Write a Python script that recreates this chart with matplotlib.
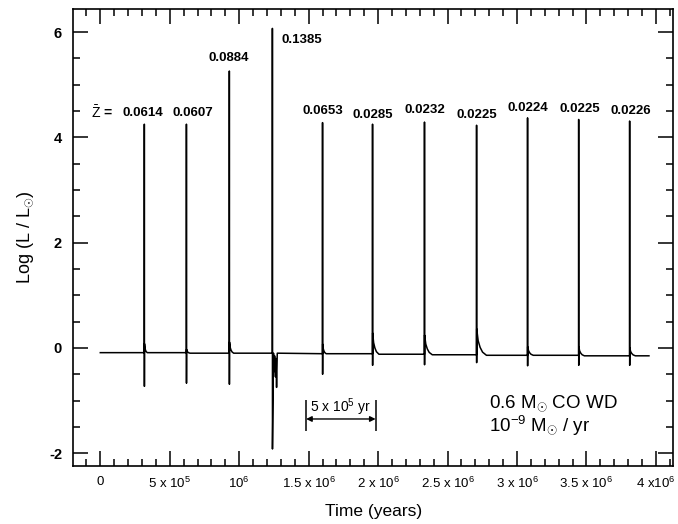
import numpy as np
import matplotlib
matplotlib.use("Agg")
from matplotlib import pyplot as plt
from matplotlib.ticker import MultipleLocator, FixedLocator, FixedFormatter

plt.rcParams['font.family'] = ['Liberation Sans', 'DejaVu Sans']
plt.rcParams['mathtext.fontset'] = 'custom'
plt.rcParams['mathtext.rm'] = 'Liberation Sans'
plt.rcParams['mathtext.it'] = 'Liberation Sans:italic'
plt.rcParams['mathtext.bf'] = 'Liberation Sans:bold'
plt.rcParams['axes.unicode_minus'] = False

# flash times (yr) and the light curve values
flash_t = [3.17e5, 6.2e5, 9.29e5, 1.239e6, 1.60e6, 1.96e6, 2.334e6, 2.709e6, 3.076e6, 3.444e6, 3.811e6]
flash_peak = [4.25, 4.25, 5.26, 6.07, 4.28, 4.25, 4.29, 4.23, 4.37, 4.34, 4.31]
flash_dip = [-0.73, -0.67, -0.69, -1.92, -0.5, -0.33, -0.32, -0.28, -0.34, -0.33, -0.33]
tail_top = [0.08, -0.03, 0.11, -0.10, 0.07, 0.28, 0.24, 0.36, 0.02, 0.02, 0.0]
tail_len = [2e4, 2.5e4, 3e4, 0, 2.5e4, 4.5e4, 5.5e4, 7e4, 4e4, 4e4, 4e4]
# quiescent level before each flash, plus the end
base_level = [-0.09, -0.09, -0.10, -0.10, -0.11, -0.11, -0.12, -0.13, -0.14, -0.14, -0.15, -0.15]
t_start = 0.0
t_end = 3.95e6
# decay shape of the tail after a flash (fraction of length, fraction of height)
tail_dt = [0.0, 0.15, 0.35, 0.6, 1.0]
tail_frac = [1.0, 0.55, 0.3, 0.12, 0.0]
# the wiggles after the strongest flash
osc_dt = [0.8e4, 1.2e4, 1.6e4, 2.2e4, 2.6e4, 3.0e4, 3.5e4]
osc_val = [-0.10, -0.45, -0.15, -0.55, -0.20, -0.75, -0.10]

z_labels = ['0.0614', '0.0607', '0.0884', '0.1385', '0.0653', '0.0285',
            '0.0232', '0.0225', '0.0224', '0.0225', '0.0226']
label_t = [3.03e5, 6.63e5, 9.22e5, 1.304e6, 1.60e6, 1.96e6, 2.334e6, 2.709e6, 3.076e6, 3.451e6, 3.818e6]
label_y = [4.47, 4.47, 5.50, 5.85, 4.50, 4.43, 4.52, 4.43, 4.56, 4.54, 4.50]

xtick_vals = [0, 5e5, 1e6, 1.5e6, 2e6, 2.5e6, 3e6, 3.5e6, 4e6]
xtick_text = ['0', '5 x 10$^5$', '10$^6$', '1.5 x 10$^6$', '2 x 10$^6$', '2.5 x 10$^6$',
              '3 x 10$^6$', '3.5 x 10$^6$', '4 x10$^6$']

# build the light curve polyline
t = [t_start]
L = [base_level[0]]
for i in range(len(flash_t)):
    ti = flash_t[i]
    t += [ti - 500, ti, ti + 500]
    L += [base_level[i], flash_peak[i], flash_dip[i]]
    if i == 3:
        for dt, v in zip(osc_dt, osc_val):
            t.append(ti + dt)
            L.append(v)
    else:
        for dt, f in zip(tail_dt, tail_frac):
            t.append(ti + 1000 + dt * tail_len[i])
            L.append(base_level[i + 1] + f * (tail_top[i] - base_level[i + 1]))
t.append(t_end)
L.append(base_level[-1])

fig = plt.figure(figsize=(6.78, 5.24), dpi=100)
ax = fig.add_axes([0.108, 0.110, 0.885, 0.873])
ax.plot(t, L, color='black', lw=1.1)

ax.set_xlim(-1.95e5, 4.125e6)
ax.set_ylim(-2.25, 6.44)

ax.xaxis.set_major_locator(FixedLocator(xtick_vals))
ax.xaxis.set_major_formatter(FixedFormatter(xtick_text))
ax.xaxis.set_minor_locator(MultipleLocator(1e5))
ax.yaxis.set_major_locator(MultipleLocator(2))
ax.yaxis.set_minor_locator(MultipleLocator(0.5))
ax.tick_params(which='both', direction='in', top=True, right=True, width=1.1)
ax.tick_params(which='major', length=11)
ax.tick_params(which='minor', length=5)
ax.tick_params(axis='x', labelsize=9.5, pad=7)
ax.tick_params(axis='y', labelsize=10.5, pad=8)
for lab in ax.get_yticklabels():
    lab.set_fontweight('bold')
for sp in ax.spines.values():
    sp.set_linewidth(1.2)

ax.set_xlabel('Time (years)', fontsize=12.5, labelpad=9)
ax.set_ylabel(r'Log (L / L$_{\odot}$)', fontsize=13, labelpad=9)

for lab, x, y in zip(z_labels, label_t, label_y):
    ha = 'left' if lab == '0.1385' else 'center'
    ax.text(x, y, lab, ha=ha, va='center', fontsize=9.5, fontweight='bold')
ax.text(1.4e4, 4.47, r'$\bar{\mathrm{Z}}$ =', ha='center', va='center', fontsize=10, fontweight='bold')

# scale bar
bar_start = 1.482e6
bar_len = 5e5
ax.vlines([bar_start, bar_start + bar_len], -1.57, -0.98, color='black', lw=1.1)
ax.annotate('', xy=(bar_start, -1.35), xytext=(bar_start + bar_len, -1.35),
            arrowprops=dict(arrowstyle='<|-|>', color='black', lw=1.0,
                            mutation_scale=8, shrinkA=0, shrinkB=0))
ax.text(bar_start + bar_len / 2, -1.13, '5 x 10$^5$ yr', ha='center', va='center', fontsize=10)

ax.text(2.80e6, -1.04, r'0.6 M$_{\odot}$ CO WD', ha='left', va='center', fontsize=13.5)
ax.text(2.80e6, -1.46, r'10$^{-9}$ M$_{\odot}$ / yr', ha='left', va='center', fontsize=13.5)

fig.savefig('out.png', dpi=100)
